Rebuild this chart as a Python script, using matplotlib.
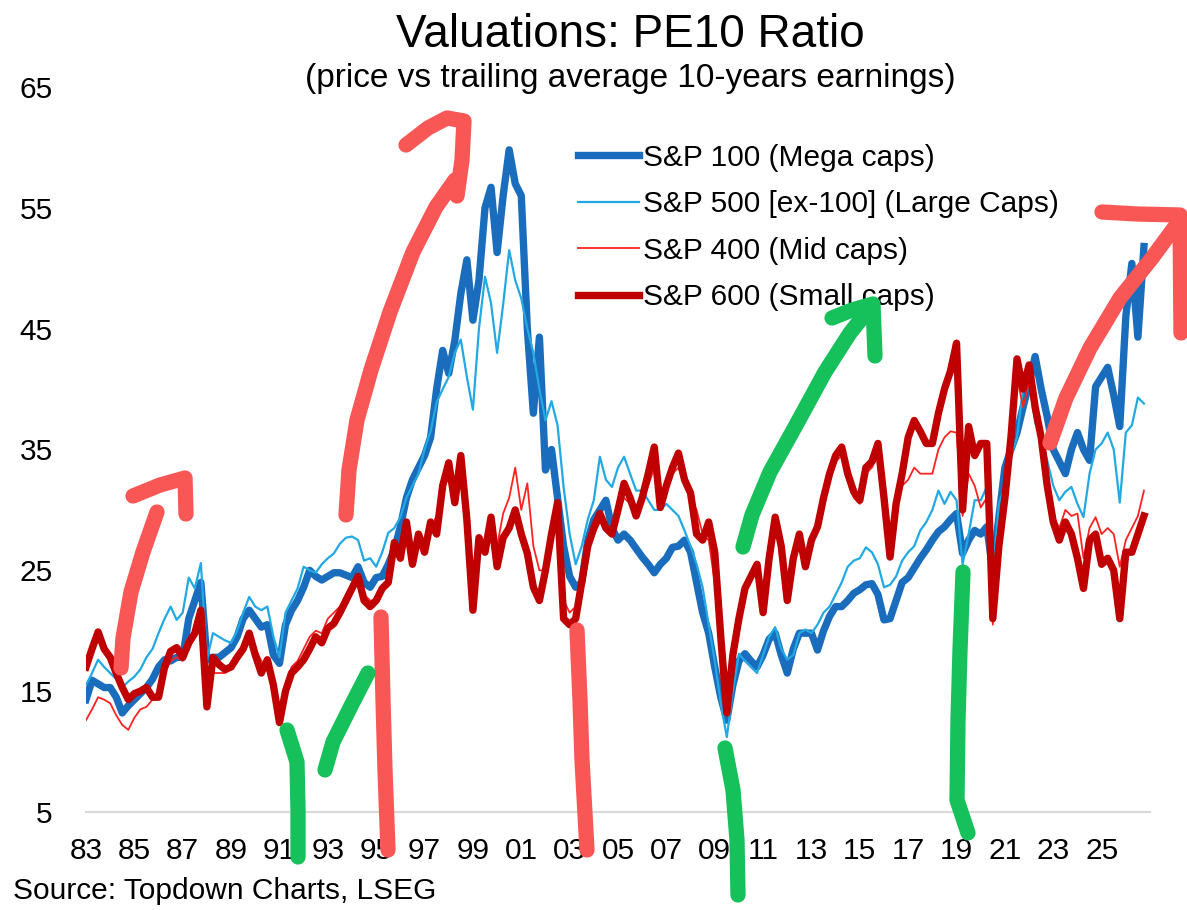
import numpy as np
import matplotlib
matplotlib.use("Agg")
import matplotlib.pyplot as plt

plt.rcParams['font.family'] = ['Liberation Sans', 'DejaVu Sans']

# quarterly time axis (year fraction)
quarters = np.arange(1983, 2027, 0.25)

sp100 = [
    14.3, 15.9, 15.6, 15.3,  15.3, 14.5, 13.2, 13.8,  14.3, 14.8, 15.3, 16.0,
    17.0, 17.6, 17.5, 17.8,  17.8, 21.0, 22.5, 24.0,  17.6, 17.8, 17.8, 18.2,
    18.6, 19.5, 21.0, 21.7,  21.0, 20.3, 20.5, 18.0,  17.3, 20.5, 21.7, 22.5,
    23.6, 25.0, 24.5, 24.2,  24.5, 24.8, 24.8, 24.6,  24.4, 25.3, 24.0, 23.6,
    24.4, 24.5, 25.5, 26.7,  28.6, 31.0, 32.5, 33.5,  34.5, 36.0, 40.0, 43.2,
    41.3, 44.0, 47.9, 50.7,  45.7, 49.0, 55.0, 56.7,  51.3, 56.0, 59.8, 57.0,
    56.0, 45.0, 38.0, 44.3,  33.3, 35.0, 31.0, 27.0,  24.5, 23.6, 24.0, 27.5,
    29.2, 30.0, 30.8, 28.5,  27.5, 28.0, 27.5, 26.8,  26.1, 25.5, 24.8, 25.5,
    26.0, 26.9, 27.0, 27.5,  26.5, 24.0, 21.5, 19.8,  17.0, 14.5, 12.6, 15.5,
    17.5, 18.1, 17.5, 17.0,  18.0, 19.3, 19.8, 18.0,  16.5, 18.5, 19.8, 19.8,
    19.8, 18.4, 20.0, 21.2,  22.0, 22.0, 22.5, 23.1,  23.4, 23.8, 23.9, 23.0,
    20.9, 21.0, 22.5, 24.0,  24.4, 25.2, 26.0, 26.7,  27.5, 28.2, 28.6, 29.2,
    29.7, 26.4, 27.5, 28.3,  28.0, 28.6, 25.0, 29.4,  33.5, 35.0, 36.4, 38.5,
    40.5, 42.7, 40.0, 37.7,  35.0, 34.0, 33.0, 35.0,  36.4, 35.0, 34.1, 40.2,
    41.0, 41.8, 39.5, 36.9,  46.0, 50.4, 44.3, 51.8,
]

sp500_ex100 = [
    15.5, 16.5, 17.6, 17.0,  16.5, 16.0, 15.3, 15.8,  16.2, 16.8, 17.8, 18.5,
    19.8, 21.0, 22.0, 20.9,  21.5, 24.4, 23.5, 25.6,  17.6, 19.8, 19.5, 19.2,
    19.0, 20.0, 21.5, 22.8,  22.0, 21.7, 22.0, 19.5,  17.8, 21.5, 22.5, 23.5,
    25.3, 25.0, 24.8, 25.5,  26.0, 26.4, 27.2, 27.7,  27.8, 27.5, 25.8, 26.0,
    25.3, 26.5, 28.1, 28.5,  29.4, 31.0, 32.0, 33.0,  35.0, 36.5, 38.9, 40.0,
    41.0, 43.0, 44.1, 41.0,  38.3, 45.0, 49.3, 47.1,  43.0, 47.0, 51.5, 49.0,
    47.5, 45.0, 43.0, 40.0,  37.4, 39.0, 37.0, 31.9,  28.0, 25.5, 27.0, 29.2,
    30.8, 34.4, 32.5, 31.9,  33.5, 34.4, 33.0, 31.6,  31.6, 30.8, 30.0, 30.0,
    30.5, 30.0, 29.5, 28.3,  27.0, 25.5, 23.6, 20.5,  17.5, 14.0, 11.2, 15.0,
    18.1, 17.5, 17.0, 16.5,  18.0, 19.5, 20.3, 18.5,  17.6, 18.0, 19.8, 20.1,
    19.8, 20.5, 21.5, 22.0,  23.0, 24.0, 25.3, 25.8,  26.0, 26.9, 26.5, 25.5,
    23.6, 23.8, 24.5, 25.8,  26.5, 27.0, 28.3, 29.0,  30.0, 31.6, 30.5, 31.5,
    30.8, 25.5, 28.0, 30.8,  30.8, 31.9, 24.5, 30.5,  32.0, 34.4, 36.0, 40.0,
    41.0, 37.2, 36.0, 34.1,  32.0, 30.8, 31.5, 31.9,  30.5, 29.4, 33.0, 35.0,
    35.5, 36.4, 35.0, 30.6,  36.4, 37.0, 39.3, 38.8,
]

sp400 = [
    12.6, 13.5, 14.5, 14.3,  14.0, 13.0, 12.2, 11.8,  12.8, 13.5, 13.7, 14.3,
    14.5, 16.5, 17.5, 17.8,  17.5, 18.5, 19.5, 20.5,  14.5, 16.5, 16.5, 16.5,
    16.8, 17.5, 18.5, 19.5,  18.5, 17.5, 17.0, 15.5,  13.0, 15.5, 17.0, 17.5,
    18.5, 19.5, 20.0, 19.8,  21.0, 21.5, 22.0, 23.0,  24.0, 24.5, 23.0, 22.5,
    22.5, 23.5, 24.5, 27.0,  26.5, 28.5, 26.5, 28.0,  27.0, 28.5, 29.5, 32.0,
    32.5, 30.5, 33.5, 28.5,  22.5, 26.5, 27.0, 29.5,  27.0, 29.7, 31.0, 33.5,
    30.0, 32.2, 27.0, 25.0,  25.0, 28.0, 30.0, 22.5,  21.5, 22.0, 24.5, 27.0,
    28.0, 29.0, 28.5, 28.0,  29.5, 31.0, 30.5, 29.5,  30.5, 32.0, 33.5, 30.0,
    31.5, 33.0, 33.5, 32.0,  31.0, 30.0, 28.0, 27.5,  24.0, 19.0, 13.8, 18.0,
    21.0, 23.5, 24.5, 25.5,  22.0, 26.0, 29.0, 27.0,  23.0, 26.0, 27.5, 25.5,
    27.5, 28.5, 30.5, 32.5,  34.0, 34.5, 32.5, 31.0,  30.5, 33.0, 33.5, 34.5,
    30.5, 26.5, 30.0, 32.0,  32.5, 33.5, 33.0, 33.0,  33.0, 35.0, 36.0, 36.5,
    36.4, 29.5, 33.0, 32.0,  30.2, 31.0, 20.5, 26.5,  30.5, 35.5, 41.0, 38.5,
    40.5, 37.5, 35.5, 32.0,  29.5, 28.5, 30.0, 29.5,  29.7, 26.0, 28.5, 29.4,
    28.0, 28.5, 28.0, 25.3,  27.5, 28.5, 29.5, 31.6,
]

sp600 = [
    17.0, 18.5, 19.9, 18.5,  17.8, 16.5, 15.3, 14.3,  14.8, 15.0, 15.3, 14.5,
    14.5, 17.0, 18.3, 18.6,  17.8, 19.0, 19.8, 21.7,  13.7, 17.8, 17.2, 16.8,
    17.0, 17.8, 18.5, 19.8,  18.0, 16.5, 17.6, 15.5,  12.4, 15.0, 16.5, 17.0,
    17.6, 18.5, 19.5, 19.0,  20.2, 20.6, 21.5, 22.5,  23.5, 24.5, 22.5, 22.0,
    22.5, 23.5, 24.0, 27.3,  26.0, 29.0, 25.5, 28.0,  26.5, 29.0, 28.0, 32.0,
    33.9, 30.6, 34.5, 29.2,  21.7, 27.7, 26.5, 29.4,  25.3, 27.7, 28.5, 30.0,
    28.0, 26.4, 23.6, 22.5,  25.0, 28.0, 30.6, 21.0,  20.5, 21.0, 24.0, 27.0,
    28.5, 29.7, 28.5, 28.0,  30.0, 32.2, 31.0, 29.5,  31.0, 33.0, 35.2, 30.2,
    32.0, 33.5, 34.7, 32.5,  31.4, 28.0, 27.5, 29.0,  26.5, 19.5, 13.2, 18.0,
    21.0, 23.5, 24.5, 25.5,  21.5, 26.0, 29.4, 27.0,  22.5, 26.0, 28.0, 25.3,
    27.5, 28.6, 31.0, 33.0,  34.5, 35.2, 33.0, 31.5,  30.8, 33.5, 34.0, 35.5,
    31.0, 26.1, 30.5, 33.0,  36.0, 37.4, 36.5, 35.5,  35.5, 38.0, 40.0, 41.5,
    43.8, 30.0, 36.9, 34.5,  35.5, 35.5, 21.0, 27.0,  31.0, 36.0, 42.5, 40.0,
    42.0, 38.5, 36.0, 32.0,  29.0, 27.5, 29.0, 28.0,  26.0, 23.5, 27.5, 28.0,
    25.5, 26.0, 25.0, 21.0,  26.5, 26.5, 28.0, 29.5,
]

labels = ["S&P 100 (Mega caps)", "S&P 500 [ex-100] (Large Caps)",
          "S&P 400 (Mid caps)", "S&P 600 (Small caps)"]
tick_years = np.arange(1983, 2027, 2)
tick_labels = [f"{y % 100:02d}" for y in tick_years]

# hand drawn marker strokes on top of the chart (figure pixel coords)
red_strokes = [
    [(121, 668), (123, 638), (131, 592), (143, 552), (157, 512)],
    [(133, 496), (160, 485), (185, 478), (186, 514)],
    [(346, 515), (349, 470), (357, 420), (371, 370), (390, 312), (413, 252),
     (436, 207), (455, 180)],
    [(406, 145), (428, 128), (447, 118), (464, 121), (462, 160), (457, 196)],
    [(381, 617), (383, 700), (385, 770), (388, 850)],
    [(577, 630), (580, 700), (582, 760), (587, 850)],
    [(1050, 443), (1066, 398), (1090, 348), (1120, 298), (1152, 258), (1180, 220)],
    [(1102, 212), (1137, 214), (1180, 215), (1181, 333)],
]
green_strokes = [
    [(287, 730), (297, 762), (298, 810), (298, 857)],
    [(325, 770), (333, 742), (352, 704), (368, 673)],
    [(725, 748), (733, 790), (737, 840), (738, 895)],
    [(743, 547), (752, 515), (770, 472), (795, 427), (825, 372), (850, 333),
     (870, 308)],
    [(832, 318), (852, 310), (873, 304), (875, 356)],
    [(963, 572), (960, 650), (958, 720), (957, 800), (968, 833)],
]

fig = plt.figure(figsize=(11.87, 9.10), dpi=100)
ax = fig.add_axes([86 / 1187, 98 / 910, 1064 / 1187, 725 / 910])

ax.plot(quarters, sp100, color="#1a6dbd", lw=5.3, solid_joinstyle="round",
        label=labels[0], zorder=2)
ax.plot(quarters, sp500_ex100, color="#22a9e3", lw=1.6, label=labels[1], zorder=3)
ax.plot(quarters, sp400, color="#ff2222", lw=1.3, label=labels[2], zorder=4)
ax.plot(quarters, sp600, color="#c00000", lw=5.3, solid_joinstyle="round",
        label=labels[3], zorder=5)

ax.set_xlim(1983, 2027)
ax.set_ylim(5, 65)
ax.set_yticks(np.arange(5, 66, 10))
ax.set_xticks(tick_years)
ax.set_xticklabels(tick_labels)
ax.tick_params(axis="both", length=0, labelsize=21.5, colors="black")
ax.tick_params(axis="y", pad=24)
ax.tick_params(axis="x", pad=18)
for side in ["top", "right", "left"]:
    ax.spines[side].set_visible(False)
ax.spines["bottom"].set_color("#d9d9d9")
ax.spines["bottom"].set_linewidth(1.5)

leg = ax.legend(loc="upper left", bbox_to_anchor=(0.462, 0.922), frameon=False,
                fontsize=21.5, handlelength=2.05, handletextpad=0.15,
                labelspacing=0.62, borderaxespad=0, borderpad=0)

fig.text(630 / 1187, 1 - 35 / 910, "Valuations: PE10 Ratio", fontsize=33,
         ha="center", va="center")
fig.text(630 / 1187, 1 - 79 / 910, "(price vs trailing average 10-years earnings)",
         fontsize=24, ha="center", va="center")
fig.text(13 / 1187, 1 - 891 / 910, "Source: Topdown Charts, LSEG", fontsize=21.5,
         ha="left", va="center")

over = fig.add_axes([0, 0, 1, 1], facecolor="none", zorder=10)
over.set_xlim(0, 1187)
over.set_ylim(910, 0)
over.axis("off")
for pts in red_strokes:
    xs, ys = zip(*pts)
    over.plot(xs, ys, color="#f95656", lw=11, solid_capstyle="round",
              solid_joinstyle="round")
for pts in green_strokes:
    xs, ys = zip(*pts)
    over.plot(xs, ys, color="#16c15c", lw=11, solid_capstyle="round",
              solid_joinstyle="round")

fig.savefig("out.png", dpi=100)
